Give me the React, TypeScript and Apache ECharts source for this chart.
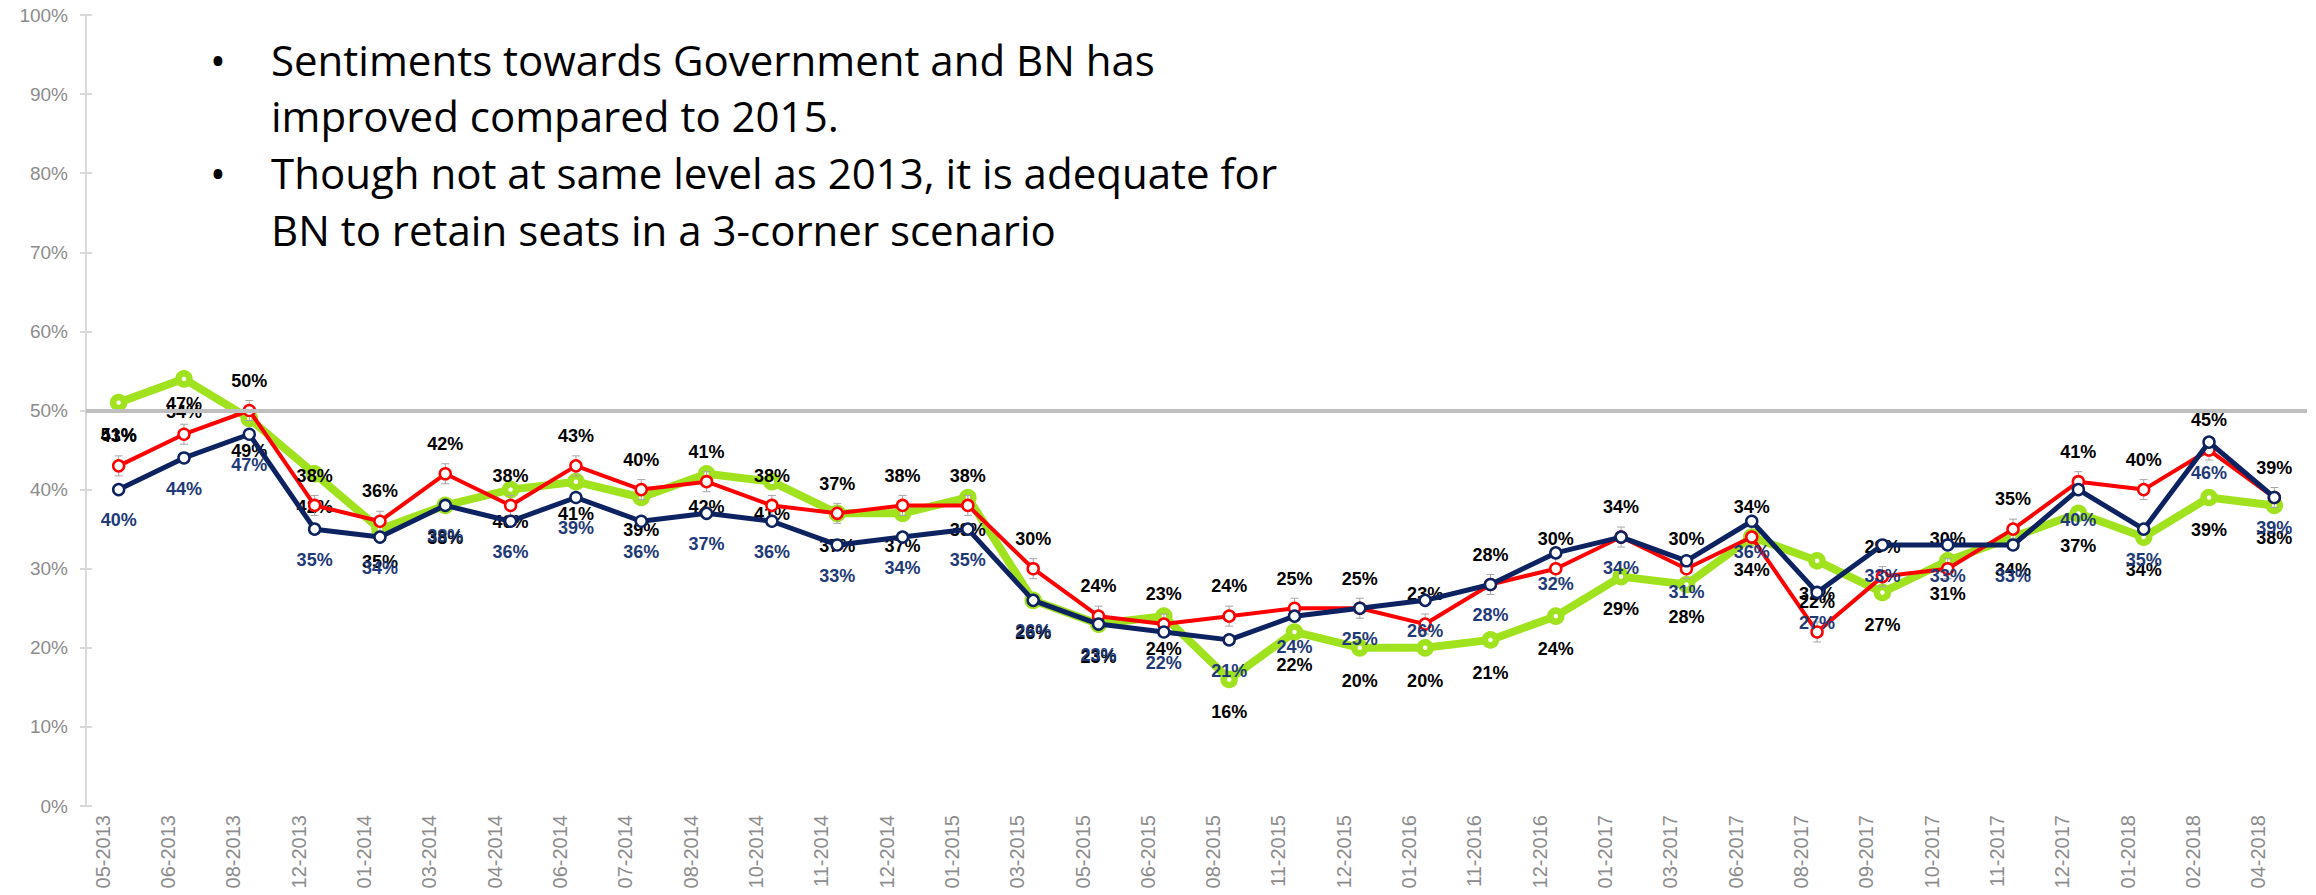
import React, { useEffect, useRef } from "react";
import * as echarts from "echarts";

const categories = [
  "05-2013", "06-2013", "08-2013", "12-2013", "01-2014", "03-2014", "04-2014", "06-2014",
  "07-2014", "08-2014", "10-2014", "11-2014", "12-2014", "01-2015", "03-2015", "05-2015",
  "06-2015", "08-2015", "11-2015", "12-2015", "01-2016", "11-2016", "12-2016", "01-2017",
  "03-2017", "06-2017", "08-2017", "09-2017", "10-2017", "11-2017", "12-2017", "01-2018",
  "02-2018", "04-2018",
];

const greenValues = [51, 54, 49, 42, 35, 38, 40, 41, 39, 42, 41, 37, 37, 39, 26, 23, 24, 16, 22, 20, 20, 21, 24, 29, 28, 34, 31, 27, 31, 34, 37, 34, 39, 38];
const redValues = [43, 47, 50, 38, 36, 42, 38, 43, 40, 41, 38, 37, 38, 38, 30, 24, 23, 24, 25, 25, 23, 28, 30, 34, 30, 34, 22, 29, 30, 35, 41, 40, 45, 39];
const navyValues = [40, 44, 47, 35, 34, 38, 36, 39, 36, 37, 36, 33, 34, 35, 26, 23, 22, 21, 24, 25, 26, 28, 32, 34, 31, 36, 27, 33, 33, 33, 40, 35, 46, 39];

const yTicks = { min: 0, max: 100, interval: 10 };
const referenceLevel = 50;

const bulletLines = [
  { bullet: true, text: "Sentiments towards Government and BN has" },
  { bullet: false, text: "improved compared to 2015." },
  { bullet: true, text: "Though not at same level as 2013, it is adequate for" },
  { bullet: false, text: "BN to retain seats in a 3-corner scenario" },
];

const GREEN = "#A1E21F";
const RED = "#FF0000";
const NAVY = "#0D2260";
const NAVY_LABEL = "#1F3A78";
const GRAY_TEXT = "#8C8C8C";

export default function App() {
  const ref = useRef<HTMLDivElement>(null);

  useEffect(() => {
    if (!ref.current) return;
    const chart = echarts.init(ref.current, undefined, { renderer: "svg" });

    const labelFont = {
      fontFamily: "'Liberation Sans', Arial, sans-serif",
      fontWeight: "bold" as const,
      fontSize: 18,
    };

    const textFont = "42px 'Open Sans', sans-serif";
    const baselineYs = [59, 115, 172, 229];
    const graphic: any[] = [];
    bulletLines.forEach((ln, i) => {
      if (ln.bullet) {
        graphic.push({
          type: "text",
          x: 218,
          y: baselineYs[i],
          style: { text: "•", font: textFont, fill: "#000", align: "center", verticalAlign: "middle" },
          z: 10,
        });
      }
      graphic.push({
        type: "text",
        x: 271,
        y: baselineYs[i],
        style: { text: ln.text, font: textFont, fill: "#000", align: "left", verticalAlign: "middle" },
        z: 10,
      });
    });

    const option: any = {
      animation: false,
      backgroundColor: "#ffffff",
      grid: { left: 86, right: 9, top: 15, bottom: 89, containLabel: false },
      xAxis: {
        type: "category",
        data: categories,
        boundaryGap: true,
        axisLine: { show: false },
        axisTick: { show: false },
        axisLabel: {
          rotate: 90,
          interval: 0,
          margin: 9,
          fontSize: 20,
          color: GRAY_TEXT,
          fontFamily: "'Liberation Sans', Arial, sans-serif",
          align: "right",
          verticalAlign: "bottom",
          lineHeight: 32,
        },
        splitLine: { show: false },
      },
      yAxis: [
        {
          type: "value",
          min: yTicks.min,
          max: yTicks.max,
          interval: yTicks.interval,
          axisLine: { show: true, lineStyle: { color: "#D9D9D9", width: 2 } },
          axisTick: { show: true, length: 6, lineStyle: { color: "#D9D9D9", width: 2 } },
          axisLabel: {
            formatter: "{value}%",
            fontSize: 19,
            color: GRAY_TEXT,
            margin: 18,
            fontFamily: "'Liberation Sans', Arial, sans-serif",
          },
          splitLine: { show: false },
        },
        {
          type: "value",
          position: "left",
          min: yTicks.min,
          max: yTicks.max,
          interval: yTicks.interval,
          axisLine: { show: false },
          axisTick: { show: true, inside: true, length: 6, lineStyle: { color: "#D9D9D9", width: 2 } },
          axisLabel: { show: false },
          splitLine: { show: false },
        },
      ],
      graphic,
      series: [
        {
          name: "Green",
          type: "line",
          data: greenValues,
          z: 2,
          symbol: "circle",
          symbolSize: 11,
          lineStyle: { color: GREEN, width: 8 },
          itemStyle: { color: "#ffffff", borderColor: GREEN, borderWidth: 6.5 },
          label: {
            show: true,
            position: "bottom",
            distance: 15,
            formatter: "{c}%",
            color: "#000",
            ...labelFont,
          },
          markLine: {
            silent: true,
            symbol: "none",
            label: { show: false },
            lineStyle: { color: "#BFBFBF", width: 4, type: "solid" },
            data: [{ yAxis: referenceLevel }],
          },
        },
        {
          name: "RedError",
          type: "custom",
          z: 3,
          data: redValues.map((v, i) => [i, v]),
          renderItem: (params: any, api: any) => {
            const p = api.coord([api.value(0), api.value(1)]);
            const h = 10;
            const w = 4;
            const style = { stroke: "#A6A6A6", lineWidth: 1 };
            return {
              type: "group",
              children: [
                { type: "line", shape: { x1: p[0], y1: p[1] - h, x2: p[0], y2: p[1] + h }, style },
                { type: "line", shape: { x1: p[0] - w, y1: p[1] - h, x2: p[0] + w, y2: p[1] - h }, style },
                { type: "line", shape: { x1: p[0] - w, y1: p[1] + h, x2: p[0] + w, y2: p[1] + h }, style },
              ],
            };
          },
        },
        {
          name: "Red",
          type: "line",
          data: redValues,
          z: 4,
          symbol: "circle",
          symbolSize: 11,
          lineStyle: { color: RED, width: 4 },
          itemStyle: { color: "#ffffff", borderColor: RED, borderWidth: 2.5 },
          label: {
            show: true,
            position: "top",
            distance: 14,
            formatter: "{c}%",
            color: "#000",
            ...labelFont,
          },
        },
        {
          name: "Navy",
          type: "line",
          data: navyValues,
          z: 5,
          symbol: "circle",
          symbolSize: 11,
          lineStyle: { color: NAVY, width: 5 },
          itemStyle: { color: "#ffffff", borderColor: NAVY, borderWidth: 2.5 },
          label: {
            show: true,
            position: "bottom",
            distance: 15,
            formatter: "{c}%",
            color: NAVY_LABEL,
            ...labelFont,
          },
        },
      ],
    };

    chart.setOption(option);
    return () => chart.dispose();
  }, []);

  return (
    <div
      ref={ref}
      style={{ position: "fixed", left: 0, top: 0, width: 2316, height: 895, background: "#fff" }}
    />
  );
}
